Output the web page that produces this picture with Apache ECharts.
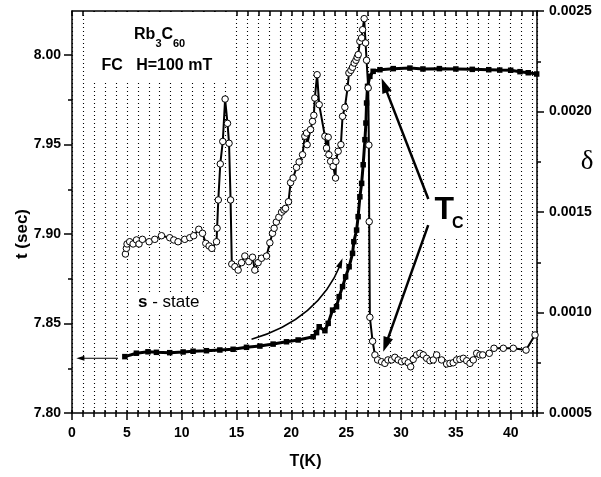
<!DOCTYPE html>
<html>
<head>
<meta charset="utf-8">
<script src="https://cdn.jsdelivr.net/npm/echarts@6/dist/echarts.min.js"></script>
<style>
html, body { margin: 0; padding: 0; background: #fff; }
#chart { width: 601px; height: 477px; }
</style>
</head>
<body>
<div id="chart"></div>
<script>
// s-state curve (filled squares, left axis t in sec)
const sTemp = [4.82, 5.87, 6.93, 7.70, 8.91, 10.13, 11.04, 12.26, 13.48, 14.69, 15.91, 17.13, 18.34, 19.56, 20.62,
  21.99, 22.30, 22.54, 23.06, 23.36, 23.76, 24.12, 24.36, 24.67, 24.95, 25.27, 25.58, 25.70, 25.95, 26.09,
  26.25, 26.41, 26.55, 26.71, 26.80, 26.86, 26.95, 27.16, 27.46, 28.08, 29.29, 30.81, 32.0, 33.5, 35.0,
  36.5, 38.0, 39.0, 40.0, 40.85, 41.6, 42.37];
const sTime = [7.8315, 7.8334, 7.8342, 7.8339, 7.8337, 7.8341, 7.8345, 7.8348, 7.8352, 7.8356, 7.8367, 7.8374, 7.8385, 7.8398, 7.8408,
  7.8426, 7.8449, 7.8482, 7.8460, 7.8501, 7.8575, 7.8594, 7.8650, 7.8706, 7.8761, 7.8817, 7.8892, 7.8957, 7.9022, 7.9097,
  7.9208, 7.9283, 7.9387, 7.9527, 7.9620, 7.9732, 7.9825, 7.9881, 7.9909, 7.9918, 7.9924, 7.9927, 7.9922, 7.9924, 7.9922,
  7.9920, 7.9918, 7.9916, 7.9915, 7.9907, 7.9901, 7.9894];

// delta curve (open circles, right axis)
const dTemp = [4.87, 4.96, 5.02, 5.26, 5.57, 5.88, 6.11, 6.42, 7.03, 7.55,
  8.16, 8.91, 9.28, 9.67, 10.28, 10.74, 11.10, 11.56, 11.90, 12.20,
  12.50, 12.75, 13.18, 13.23, 13.34, 13.52, 13.75, 13.96, 14.18, 14.32,
  14.46, 14.57, 14.85, 15.15, 15.46, 15.76, 16.12, 16.46, 16.67, 16.97,
  17.28, 17.74, 18.04, 18.28, 18.43, 18.63, 18.86, 19.11, 19.32, 19.47,
  19.74, 19.93, 20.16, 20.47, 20.71, 21.02, 21.23, 21.39, 21.44, 21.75,
  21.93, 22.05, 22.14, 22.35, 22.54, 23.06, 23.21, 23.36, 23.42, 23.58,
  23.81, 24.03, 24.06, 24.27, 24.52, 24.67, 24.88, 25.13, 25.25, 25.43,
  25.58, 25.73, 25.89, 26.00, 26.10, 26.25, 26.41, 26.50, 26.64, 26.77,
  26.86, 27.01, 27.07, 27.10, 27.16, 27.41, 27.62, 27.87, 28.23, 28.53,
  28.81, 29.14, 29.44, 29.74, 30.05, 30.36, 30.66, 30.88, 31.11, 31.42,
  31.72, 32.03, 32.34, 32.64, 32.94, 33.25, 33.70, 34.16, 34.46, 34.76,
  35.07, 35.37, 35.68, 35.99, 36.29, 36.59, 36.90, 37.20, 37.45, 38.05,
  38.48, 39.33, 40.24, 41.40, 42.22];
const dVal = [0.001291, 0.001319, 0.001341, 0.001352, 0.001341, 0.001361, 0.001341, 0.001364, 0.001352, 0.001364,
  0.001382, 0.001372, 0.001361, 0.001352, 0.001364, 0.001372, 0.001382, 0.001414, 0.001394, 0.001344,
  0.001331, 0.001319, 0.001352, 0.001419, 0.001560, 0.001739, 0.001851, 0.002062, 0.001941, 0.001842,
  0.001560, 0.001241, 0.001228, 0.001211, 0.001248, 0.001281, 0.001253, 0.001275, 0.001211, 0.001248,
  0.001270, 0.001281, 0.001347, 0.001394, 0.001419, 0.001450, 0.001474, 0.001499, 0.001510, 0.001518,
  0.001551, 0.001646, 0.001669, 0.001722, 0.001749, 0.001785, 0.001877, 0.001893, 0.001835, 0.001910,
  0.001951, 0.001981, 0.002067, 0.002183, 0.002034, 0.001877, 0.001818, 0.001872, 0.001785, 0.001752,
  0.001727, 0.001669, 0.001752, 0.001802, 0.001835, 0.001976, 0.002021, 0.002117, 0.002192, 0.002205,
  0.002220, 0.002241, 0.002255, 0.002270, 0.002283, 0.002349, 0.002366, 0.002407, 0.002462, 0.002341,
  0.002255, 0.002117, 0.001833, 0.001452, 0.000976, 0.000857, 0.000789, 0.000764, 0.000755, 0.000747,
  0.000764, 0.000764, 0.000777, 0.000764, 0.000755, 0.000760, 0.000750, 0.000730, 0.000767, 0.000789,
  0.000797, 0.000789, 0.000772, 0.000760, 0.000764, 0.000789, 0.000764, 0.000744, 0.000747, 0.000750,
  0.000764, 0.000767, 0.000772, 0.000760, 0.000747, 0.000764, 0.000797, 0.000789, 0.000789, 0.000797,
  0.000822, 0.000822, 0.000822, 0.000813, 0.000888];

// tick labels
const xTicks = [0, 5, 10, 15, 20, 25, 30, 35, 40];
const tTicks = [7.80, 7.85, 7.90, 7.95, 8.00];
const tMinorTicks = [7.825, 7.875, 7.925, 7.975];

const FONT = '"Liberation Sans", Arial, sans-serif';
const black = { color: '#000', width: 1.5 };
const labelFont = { color: '#000', fontFamily: FONT, fontWeight: 'bold', fontSize: 14 };

const myChart = echarts.init(document.getElementById('chart'));

const option = {
  animation: false,
  grid: { left: 72, right: 64, top: 11, bottom: 64, outerBoundsMode: 'none' },
  xAxis: [
    {
      type: 'value', position: 'bottom', min: 0, max: 42.4,
      axisLine: { show: true, onZero: false, lineStyle: black },
      axisTick: { show: true, length: 7, lineStyle: black, customValues: xTicks },
      axisLabel: Object.assign({ margin: 13, customValues: xTicks }, labelFont),
      splitLine: { show: false }
    },
    {
      // 1 K ticks + dotted grid
      type: 'value', position: 'bottom', min: 0, max: 42.4, interval: 1,
      axisLine: { show: false, onZero: false },
      axisTick: { show: true, length: 4, lineStyle: black },
      axisLabel: { show: false },
      splitLine: { show: true, lineStyle: { color: '#000', width: 1.1, type: [1, 3] } }
    },
    {
      type: 'value', position: 'bottom', min: 0, max: 42.4, interval: 1,
      axisLine: { show: false, onZero: false },
      axisTick: { show: true, inside: true, length: 3, lineStyle: black },
      axisLabel: { show: false },
      splitLine: { show: false }
    },
    {
      type: 'value', position: 'top', min: 0, max: 42.4, interval: 1,
      axisLine: { show: true, onZero: false, lineStyle: black },
      axisTick: { show: true, inside: true, length: 5, lineStyle: black },
      axisLabel: { show: false },
      splitLine: { show: false }
    }
  ],
  yAxis: [
    {
      type: 'value', position: 'left', min: 7.80, max: 8.0246,
      axisLine: { show: true, onZero: false, lineStyle: black },
      axisTick: { show: true, length: 8, lineStyle: black, customValues: tTicks },
      axisLabel: Object.assign({ margin: 11, customValues: tTicks, formatter: v => v.toFixed(2) }, labelFont),
      splitLine: { show: false }
    },
    {
      type: 'value', position: 'left', min: 7.80, max: 8.0246,
      axisLine: { show: false, onZero: false },
      axisTick: { show: true, length: 4, lineStyle: black, customValues: tMinorTicks },
      axisLabel: { show: false },
      splitLine: { show: false }
    },
    {
      type: 'value', position: 'right', min: 0.0005, max: 0.0025, interval: 0.0005,
      axisLine: { show: true, onZero: false, lineStyle: black },
      axisTick: { show: true, length: 7, lineStyle: black },
      minorTick: { show: true, splitNumber: 2, length: 4, lineStyle: black },
      axisLabel: Object.assign({ margin: 12, formatter: v => v.toFixed(4) }, labelFont),
      splitLine: { show: false }
    }
  ],
  series: [
    {
      name: 't', type: 'line', xAxisIndex: 0, yAxisIndex: 0, silent: true,
      data: sTemp.map((T, i) => [T, sTime[i]]),
      symbol: 'rect', symbolSize: 5.5,
      lineStyle: { color: '#000', width: 3 },
      itemStyle: { color: '#000' },
      z: 2
    },
    {
      name: 'delta', type: 'line', xAxisIndex: 0, yAxisIndex: 2, silent: true,
      data: dTemp.map((T, i) => [T, dVal[i]]),
      symbol: 'circle', symbolSize: 6.5,
      lineStyle: { color: '#000', width: 2 },
      itemStyle: { color: '#fff', borderColor: '#000', borderWidth: 1 },
      z: 3
    }
  ]
};
myChart.setOption(option);

// annotations, anchored in data units of the left axis
function p(T, t) {
  return myChart.convertToPixel({ xAxisIndex: 0, yAxisIndex: 0 }, [T, t]);
}
function arrow(from, to, lineW, headLen, headW) {
  const dx = to[0] - from[0], dy = to[1] - from[1];
  const d = Math.hypot(dx, dy), ux = dx / d, uy = dy / d;
  const bx = to[0] - ux * headLen, by = to[1] - uy * headLen;
  return [
    { type: 'line', z: 20, shape: { x1: from[0], y1: from[1], x2: bx + ux, y2: by + uy },
      style: { stroke: '#000', lineWidth: lineW } },
    { type: 'polygon', z: 20, shape: { points: [[to[0], to[1]], [bx - uy * headW / 2, by + ux * headW / 2], [bx + uy * headW / 2, by - ux * headW / 2]] },
      style: { fill: '#000' } }
  ];
}
function txt(x, y, text, font, align, rotation) {
  return { type: 'text', x: x, y: y, z: 21, rotation: rotation || 0,
    style: { text: text, font: font, fill: '#000', align: align || 'left', verticalAlign: 'middle' } };
}

const curveStart = p(16.37, 7.8412), curveCtrl = p(22.45, 7.8521), curveEnd = p(24.67, 7.8864);
const ch = arrow(curveCtrl, curveEnd, 1.5, 10, 6);

const graphic = [
  { type: 'rect', z: 10, shape: { x: 88, y: 12, width: 142, height: 69 }, style: { fill: '#fff' } },
  { type: 'rect', z: 10, shape: { x: 135, y: 292, width: 70, height: 21 }, style: { fill: '#fff' } },
  { type: 'rect', z: 10, shape: { x: 427, y: 190, width: 40, height: 48 }, style: { fill: '#fff' } },

  txt(134, 35, 'Rb', 'bold 16px ' + FONT),
  txt(155.5, 44, '3', 'bold 11px ' + FONT),
  txt(161.5, 35, 'C', 'bold 16px ' + FONT),
  txt(173, 44, '60', 'bold 11px ' + FONT),
  txt(101.5, 66, 'FC   H=100 mT', 'bold 16px ' + FONT),
  {
    type: 'text', x: 138, y: 302, z: 21,
    style: {
      text: '{b|s}{n| - state}', verticalAlign: 'middle', align: 'left',
      rich: {
        b: { font: 'bold 17px ' + FONT, fill: '#000' },
        n: { font: '17px ' + FONT, fill: '#000' }
      }
    }
  },
  txt(434.5, 210.5, 'T', 'bold 32px ' + FONT),
  txt(452, 224, 'C', 'bold 16px ' + FONT),

  txt(22, 234, 't (sec)', 'bold 17px ' + FONT, 'center', Math.PI / 2),
  txt(305.5, 462, 'T(K)', 'bold 16px ' + FONT, 'center'),
  txt(587, 162, 'δ', '27px "Liberation Serif", serif', 'center'),

  { type: 'bezierCurve', z: 20,
    shape: { x1: curveStart[0], y1: curveStart[1], cpx1: curveCtrl[0], cpy1: curveCtrl[1], x2: curveEnd[0] - 2, y2: curveEnd[1] + 6 },
    style: { stroke: '#000', lineWidth: 1.5, fill: null } },
  ch[1]
].concat(
  arrow(p(32.49, 7.9196), p(28.23, 7.9870), 2.5, 15, 10),
  arrow(p(32.48, 7.9050), p(28.38, 7.8342), 2.5, 15, 10),
  arrow(p(4.2, 7.8306), p(0.4, 7.8306), 1.2, 8, 5)
);

myChart.setOption({ graphic: graphic });
</script>
</body>
</html>
